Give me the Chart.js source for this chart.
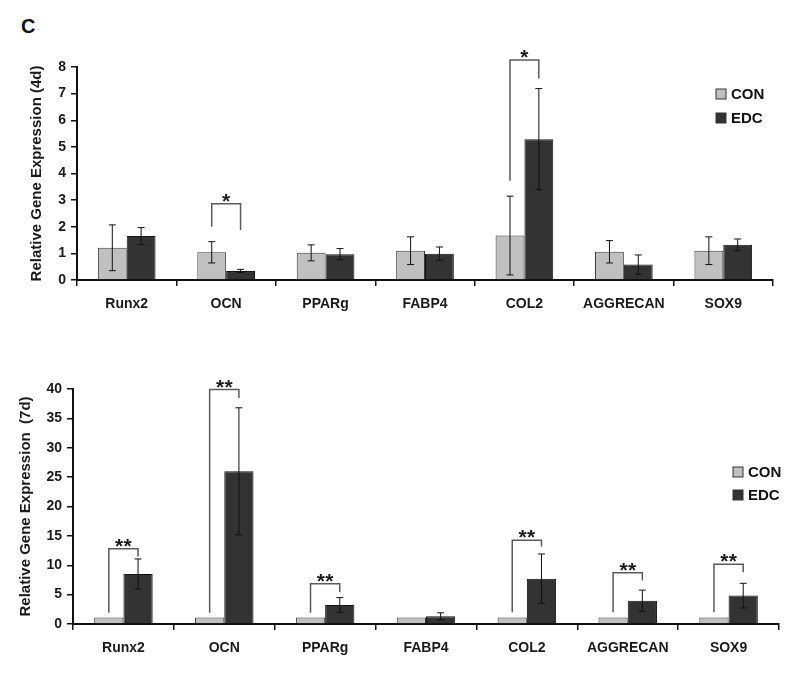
<!DOCTYPE html>
<html lang="en">
<head>
    <meta charset="UTF-8">
    <title>Relative Gene Expression</title>
    <script src="https://cdn.jsdelivr.net/npm/chart.js"></script>
    <style>
        body { margin: 0; background: #fff; width: 800px; height: 674px; position: relative; overflow: hidden; }
        .panel { position: absolute; left: 0; width: 800px; }
        #letter { position: absolute; left: 21px; top: 15px; font: bold 20px "Liberation Sans", Arial, sans-serif; color: #111; }
    </style>
</head>
<body>
    <div id="letter">C</div>
    <div class="panel" style="top:0;height:330px"><canvas id="chart4d" width="800" height="330"></canvas></div>
    <div class="panel" style="top:340px;height:334px"><canvas id="chart7d" width="800" height="334"></canvas></div>

    <script>
        const genes = ['Runx2', 'OCN', 'PPARg', 'FABP4', 'COL2', 'AGGRECAN', 'SOX9'];
        const seriesNames = ['CON', 'EDC'];

        // day 4
        const con4d = [1.21, 1.04, 1.02, 1.10, 1.67, 1.06, 1.10];
        const con4dErr = [0.86, 0.40, 0.30, 0.52, 1.48, 0.42, 0.52];
        const edc4d = [1.65, 0.34, 0.97, 0.99, 5.29, 0.58, 1.32];
        const edc4dErr = [0.32, 0.06, 0.21, 0.25, 1.90, 0.36, 0.22];
        // significance: [gene index, bracket top, left leg end, right leg end, mark]
        const sig4d = [
            [1, 2.86, 2.0, 1.88, '*'],
            [4, 8.26, 3.73, 7.57, '*']
        ];

        // day 7
        const con7d = [1.1, 1.1, 1.1, 1.1, 1.1, 1.1, 1.1];
        const edc7d = [8.52, 26.0, 3.24, 1.3, 7.72, 3.97, 4.83];
        const edc7dErr = [2.55, 10.8, 1.25, 0.6, 4.2, 1.8, 2.1];
        const sig7d = [
            [0, 12.8, 1.9, 11.5, '**'],
            [1, 39.9, 1.9, 38.45, '**'],
            [2, 6.87, 1.9, 5.4, '**'],
            [4, 14.26, 2.0, 13.2, '**'],
            [5, 8.74, 2.0, 7.4, '**'],
            [6, 10.17, 2.0, 8.8, '**']
        ];

        const FONT = '"Liberation Sans", Arial, sans-serif';
        const conColor = '#c0c0c0';
        const edcColor = '#333333';

        // error bars, brackets and legend
        const extras = {
            id: 'extras',
            afterDatasetsDraw(chart, args, opts) {
                const ctx = chart.ctx;
                const y = chart.scales.y;
                ctx.save();
                // error bars
                ctx.strokeStyle = '#111';
                ctx.lineWidth = 1;
                chart.data.datasets.forEach((ds, d) => {
                    if (!ds.err) return;
                    chart.getDatasetMeta(d).data.forEach((bar, i) => {
                        const hi = y.getPixelForValue(ds.data[i] + ds.err[i]);
                        const lo = y.getPixelForValue(Math.max(ds.data[i] - ds.err[i], 0));
                        ctx.beginPath();
                        ctx.moveTo(bar.x, hi); ctx.lineTo(bar.x, lo);
                        ctx.moveTo(bar.x - 3.5, hi); ctx.lineTo(bar.x + 3.5, hi);
                        ctx.moveTo(bar.x - 3.5, lo); ctx.lineTo(bar.x + 3.5, lo);
                        ctx.stroke();
                    });
                });
                // significance brackets
                const m0 = chart.getDatasetMeta(0).data;
                const m1 = chart.getDatasetMeta(1).data;
                opts.sig.forEach(s => {
                    const xl = m0[s[0]].x, xr = m1[s[0]].x;
                    const top = y.getPixelForValue(s[1]);
                    ctx.strokeStyle = '#5a5a5a';
                    ctx.lineWidth = 1.5;
                    ctx.beginPath();
                    ctx.moveTo(xl, y.getPixelForValue(s[2]));
                    ctx.lineTo(xl, top);
                    ctx.lineTo(xr, top);
                    ctx.lineTo(xr, y.getPixelForValue(s[3]));
                    ctx.stroke();
                    ctx.fillStyle = '#1a1a1a';
                    ctx.font = 'bold 21px ' + FONT;
                    ctx.textAlign = 'center';
                    ctx.textBaseline = 'alphabetic';
                    const n = s[4].length;
                    for (let k = 0; k < n; k++) {
                        ctx.fillText('*', (xl + xr) / 2 + (k - (n - 1) / 2) * 8.5, top + 4);
                    }
                });
                // legend
                ctx.font = 'bold 15px ' + FONT;
                ctx.textAlign = 'left';
                ctx.textBaseline = 'middle';
                chart.data.datasets.forEach((ds, d) => {
                    const lx = opts.legendX, ly = opts.legendY + d * opts.legendGap;
                    ctx.fillStyle = ds.backgroundColor;
                    ctx.fillRect(lx - 5, ly - 5, 10, 10);
                    ctx.strokeStyle = '#333';
                    ctx.lineWidth = 1;
                    ctx.strokeRect(lx - 5, ly - 5, 10, 10);
                    ctx.fillStyle = '#111';
                    ctx.fillText(ds.label, lx + 10, ly + 1);
                });
                ctx.restore();
            }
        };

        function makeChart(id, con, conErr, edc, edcErr, sig, yMax, yStep, title, titlePad, pad, legend) {
            return new Chart(document.getElementById(id), {
                type: 'bar',
                data: {
                    labels: genes,
                    datasets: [
                        { label: seriesNames[0], data: con, err: conErr, backgroundColor: conColor, borderColor: '#3a3a3a', borderWidth: 1 },
                        { label: seriesNames[1], data: edc, err: edcErr, backgroundColor: edcColor, borderColor: '#111', borderWidth: 1 }
                    ]
                },
                options: {
                    responsive: false,
                    animation: false,
                    events: [],
                    datasets: { bar: { barPercentage: 1, categoryPercentage: 0.58 } },
                    layout: { padding: pad },
                    plugins: {
                        legend: { display: false },
                        tooltip: { enabled: false },
                        extras: { sig: sig, legendX: legend[0], legendY: legend[1], legendGap: legend[2] }
                    },
                    scales: {
                        x: {
                            offset: true,
                            grid: { offset: true, drawOnChartArea: false, tickLength: 6, color: '#111', lineWidth: 1.5 },
                            border: { color: '#111', width: 2 },
                            ticks: { color: '#1a1a1a', padding: 10, font: { family: FONT, size: 14, weight: 'bold' } },
                            afterFit(s) { s.height = 50; }
                        },
                        y: {
                            min: 0, max: yMax,
                            grid: { drawOnChartArea: false, tickLength: 6, color: '#111', lineWidth: 1.5 },
                            border: { color: '#111', width: 2 },
                            ticks: { stepSize: yStep, color: '#1a1a1a', padding: 5, font: { family: FONT, size: 14, weight: 'bold' } },
                            title: { display: true, text: title, color: '#1a1a1a', padding: { top: titlePad, bottom: 0 }, font: { family: FONT, size: 15, weight: 'bold' } },
                            afterFit(s) { s.width = pad.leftAxis; }
                        }
                    }
                },
                plugins: [extras]
            });
        }

        makeChart('chart4d', con4d, con4dErr, edc4d, edc4dErr, sig4d, 8, 1,
            'Relative Gene Expression (4d)', 28,
            { top: 67, right: 27, bottom: 0, left: 0, leftAxis: 77 }, [721, 94, 24]);

        makeChart('chart7d', con7d, null, edc7d, edc7dErr, sig7d, 40, 5,
            'Relative Gene Expression  (7d)', 17,
            { top: 49, right: 21, bottom: 0, left: 0, leftAxis: 73 }, [738, 132, 23]);
    </script>
</body>
</html>
